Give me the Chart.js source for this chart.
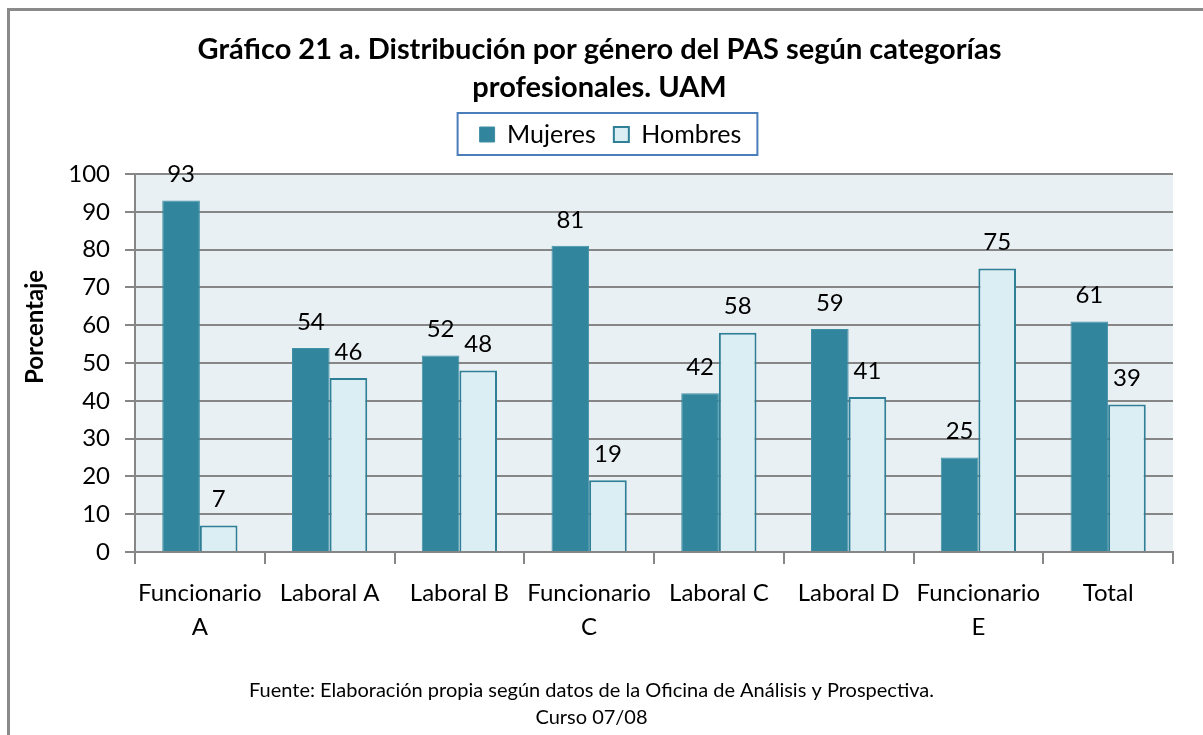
<!DOCTYPE html>
<html>
<head>
<meta charset="utf-8">
<script src="https://cdn.jsdelivr.net/npm/chart.js@4.4.1/dist/chart.umd.min.js"></script>
<style>
  body { margin: 0; background: #fff; }
  #wrap { position: relative; width: 1203px; height: 735px; }
  #frame { position: absolute; left: 7px; top: 8px; width: 1193px; height: 740px;
           border-left: 3px solid #8a8a8a; border-top: 3px solid #8a8a8a; border-right: 1px solid #ececec;
           pointer-events: none; }
</style>
</head>
<body>
<div id="wrap">
  <canvas id="chart" width="1203" height="735"></canvas>
  <div id="frame"></div>
</div>
<script>
// data
let categories = [["Funcionario", "A"], "Laboral A", "Laboral B", ["Funcionario", "C"], "Laboral C", "Laboral D", ["Funcionario", "E"], "Total"];
let mujeres = [93, 54, 52, 81, 42, 59, 25, 61];
let hombres = [7, 46, 48, 19, 58, 41, 75, 39];
let y_ticks = [0, 10, 20, 30, 40, 50, 60, 70, 80, 90, 100];

const FONT = "Lato, 'Open Sans', sans-serif";
const GRID = '#868686';
const LEGEND_HEIGHT = 70;

function shiftBox(box, dx) {
    box.left += dx;
    box.right += dx;
}

// plot background, number labels, legend frame
let extras = {
    id: 'extras',
    beforeLayout(chart) {
        let lg = chart.legend;
        if (lg && !lg._fixed) {
            let fit = lg.fit;
            lg.fit = function () { fit.call(this); this.height = LEGEND_HEIGHT; };
            lg._fixed = true;
        }
    },
    afterLayout(chart) {
        // nudge the centred blocks sideways like in the original
        chart.boxes.forEach((b) => {
            if (b === chart.legend) shiftBox(b, 14);
            else if (b.options && Array.isArray(b.options.text)) {
                shiftBox(b, b.options.position === 'bottom' ? -5 : 3);
            }
        });
    },
    beforeDraw(chart) {
        let a = chart.chartArea;
        let ctx = chart.ctx;
        ctx.save();
        ctx.fillStyle = '#e9f0f4';
        ctx.fillRect(a.left, a.top, a.right - a.left, a.bottom - a.top);
        ctx.restore();
    },
    afterDatasetsDraw(chart) {
        let ctx = chart.ctx;
        ctx.save();
        ctx.font = '24px ' + FONT;
        ctx.fillStyle = '#000';
        ctx.textAlign = 'center';
        ctx.textBaseline = 'middle';
        chart.data.datasets.forEach((ds, i) => {
            chart.getDatasetMeta(i).data.forEach((bar, j) => {
                ctx.fillText(ds.data[j], bar.x, bar.y - 26);
            });
        });
        ctx.restore();
    },
    afterDraw(chart) {
        let boxes = chart.legend.legendHitBoxes;
        if (!boxes || !boxes.length) return;
        let left = Math.min(...boxes.map(b => b.left)) - 22;
        let right = Math.max(...boxes.map(b => b.left + b.width)) + 16;
        let top = boxes[0].top - 9;
        let bottom = boxes[0].top + boxes[0].height + 8;
        let ctx = chart.ctx;
        ctx.save();
        ctx.strokeStyle = '#4a7ebb';
        ctx.lineWidth = 2;
        ctx.strokeRect(left, top, right - left, bottom - top);
        ctx.restore();
    }
};

let chart = new Chart(document.getElementById('chart'), {
    type: 'bar',
    data: {
        labels: categories,
        datasets: [
            {
                label: 'Mujeres',
                data: mujeres,
                backgroundColor: '#31859c',
                borderColor: '#3f8fa5',
                borderWidth: 1
            },
            {
                label: 'Hombres',
                data: hombres,
                backgroundColor: '#dbeef4',
                borderColor: '#2f7f96',
                borderWidth: 2
            }
        ]
    },
    options: {
        responsive: false,
        animation: false,
        categoryPercentage: 0.58,
        barPercentage: 1,
        layout: {padding: {left: 20, right: 30, top: 0, bottom: 0}},
        plugins: {
            title: {
                display: true,
                text: ['Gráfico 21 a. Distribución por género del PAS según categorías', 'profesionales. UAM'],
                font: {family: FONT, size: 29, weight: 'bold', lineHeight: 38 / 29},
                color: '#000',
                padding: {top: 31, bottom: -3}
            },
            subtitle: {
                display: true,
                position: 'bottom',
                text: ['Fuente: Elaboración propia según datos de la Oficina de Análisis y Prospectiva.', 'Curso 07/08'],
                font: {family: FONT, size: 20, lineHeight: 27 / 20},
                color: '#000',
                padding: {top: 0, bottom: 4}
            },
            legend: {
                position: 'top',
                labels: {
                    font: {family: FONT, size: 25},
                    color: '#000',
                    boxWidth: 15,
                    boxHeight: 15,
                    padding: 18
                }
            },
            tooltip: {enabled: false}
        },
        scales: {
            x: {
                afterFit: (scale) => { scale.height = 125; },
                grid: {offset: true, drawOnChartArea: false, color: GRID, lineWidth: 2, tickLength: 12},
                border: {color: GRID, width: 2},
                ticks: {font: {family: FONT, size: 24, lineHeight: 34 / 24}, color: '#000', padding: 12, maxRotation: 0}
            },
            y: {
                min: 0,
                max: 100,
                afterBuildTicks: (scale) => { scale.ticks = y_ticks.map(v => ({value: v})); },
                afterFit: (scale) => { scale.width = 115; },
                grid: {color: GRID, lineWidth: 2, tickLength: 10},
                border: {color: GRID, width: 2},
                ticks: {font: {family: FONT, size: 24}, color: '#000', padding: 15},
                title: {
                    display: true,
                    text: '\u2003\u2003\u2003\u2003Porcentaje',
                    font: {family: FONT, size: 24, weight: 'bold'},
                    color: '#000',
                    padding: {top: 1, bottom: 0}
                }
            }
        }
    },
    plugins: [extras]
});
</script>
</body>
</html>
